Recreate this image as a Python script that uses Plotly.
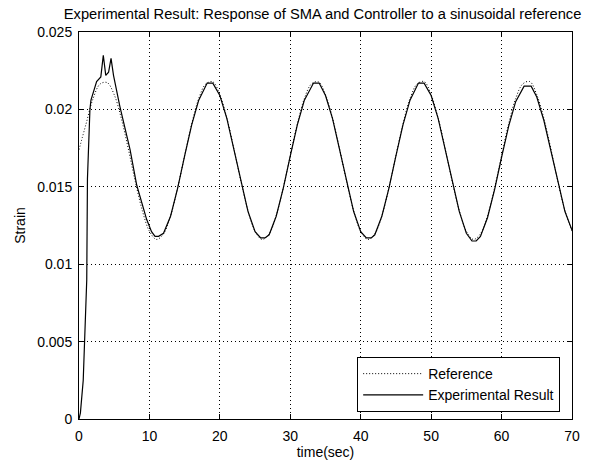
import plotly.graph_objects as go

# Reference signal (sampled every 1 s)
ref_t = list(range(0, 71))
ref_v = [0.01740, 0.01906, 0.02070, 0.02164, 0.02173, 0.02095, 0.01943, 0.01745,
         0.01533, 0.01345, 0.01213, 0.01160, 0.01196, 0.01313, 0.01492,
         0.01702, 0.01906, 0.02070, 0.02164, 0.02178, 0.02095, 0.01943, 0.01745,
         0.01533, 0.01345, 0.01213, 0.01160, 0.01196, 0.01313, 0.01492,
         0.01702, 0.01906, 0.02070, 0.02164, 0.02178, 0.02095, 0.01943, 0.01745,
         0.01533, 0.01345, 0.01213, 0.01160, 0.01196, 0.01313, 0.01492,
         0.01702, 0.01906, 0.02070, 0.02164, 0.02180, 0.02095, 0.01943, 0.01745,
         0.01533, 0.01345, 0.01213, 0.01160, 0.01196, 0.01313, 0.01492,
         0.01702, 0.01906, 0.02070, 0.02164, 0.02180, 0.02095, 0.01943, 0.01745,
         0.01533, 0.01345, 0.01213]

# Experimental result
exp_t = [0, 0.2, 0.6, 0.95, 1.1, 1.2, 1.4, 1.55, 1.7, 2.0, 2.5, 3.1, 3.45, 3.8, 4.2,
         4.55, 4.9, 5.8, 6.5, 7.25, 8.2, 9.0, 9.6, 10.3, 10.8, 11.3, 12, 13, 14, 15,
         16, 17, 18.2, 19.0, 20, 21, 22, 23, 24, 25, 25.8, 26.4, 27, 28, 29, 30, 31,
         32, 33.3, 34.1, 35, 36, 37, 38, 39, 40, 40.8, 41.5, 42, 43, 44, 45, 46, 47,
         48.2, 49.0, 50, 51, 52, 53, 54, 55, 55.8, 56.4, 57, 58, 59, 60, 61, 62,
         63.2, 64.2, 65, 66, 67, 68, 69, 70]
exp_v = [0, 0.0004, 0.0025, 0.0066, 0.0090, 0.0155, 0.0190, 0.0200, 0.0206, 0.0211,
         0.0218, 0.0221, 0.0235, 0.0222, 0.0224, 0.0233, 0.0222, 0.0202, 0.0188,
         0.0174, 0.0151, 0.0138, 0.0129, 0.0121, 0.0118, 0.0118, 0.0120, 0.0131,
         0.0149, 0.0170, 0.0190, 0.0206, 0.0217, 0.0217, 0.0209, 0.0194, 0.0174,
         0.0153, 0.0134, 0.0121, 0.0117, 0.0117, 0.0119, 0.0131, 0.0149, 0.0170,
         0.0190, 0.0206, 0.0217, 0.0217, 0.0209, 0.0194, 0.0174, 0.0153, 0.0134,
         0.0121, 0.0117, 0.0117, 0.0119, 0.0131, 0.0149, 0.0170, 0.0190, 0.0206,
         0.0217, 0.0217, 0.0209, 0.0194, 0.0174, 0.0153, 0.0134, 0.0120, 0.0115,
         0.0115, 0.0118, 0.0130, 0.0148, 0.0169, 0.0189, 0.0205, 0.0215, 0.0215,
         0.0208, 0.0193, 0.0173, 0.0152, 0.0134, 0.0122]

x_ticks = [0, 10, 20, 30, 40, 50, 60, 70]
x_labels = ["0", "10", "20", "30", "40", "50", "60", "70"]
y_ticks = [0, 0.005, 0.01, 0.015, 0.02, 0.025]
y_labels = ["0", "0.005", "0.01", "0.015", "0.02", "0.025"]

font = "Liberation Sans, Arial, sans-serif"
f14 = dict(family=font, size=14, color="black")

fig = go.Figure()
fig.add_trace(go.Scatter(x=ref_t, y=ref_v, mode="lines", name="Reference",
                         line=dict(color="black", width=1, dash="1px,2px", shape="spline")))
fig.add_trace(go.Scatter(x=exp_t, y=exp_v, mode="lines", name="Experimental Result",
                         line=dict(color="black", width=1.2)))

axis_common = dict(showline=True, linecolor="black", linewidth=1, mirror="ticks",
                   ticks="inside", ticklen=5, tickcolor="black", automargin=False,
                   showgrid=True, gridcolor="black", griddash="1px,3px", gridwidth=1,
                   zeroline=False, tickfont=f14)

fig.update_layout(
    width=589, height=461,
    margin=dict(l=79, r=17, t=32, b=42),
    paper_bgcolor="white", plot_bgcolor="white",
    title=dict(text="Experimental Result: Response of SMA and Controller to a sinusoidal reference",
               x=(79 + 493 / 2) / 589 - 0.005, xanchor="center", y=1 - 14 / 461, yanchor="middle",
               font=dict(family=font, size=14.7, color="black")),
    xaxis=dict(range=[0, 70], tickvals=x_ticks, ticktext=x_labels, ticklabelstandoff=4,
               title=dict(text="time(sec)", font=f14, standoff=2),
               **axis_common),
    yaxis=dict(range=[0, 0.025], tickvals=y_ticks, ticktext=y_labels, ticklabelstandoff=3,
               title=dict(text="Strain", font=f14, standoff=8),
               **axis_common),
    legend=dict(x=0.976, y=0.018, xanchor="right", yanchor="bottom",
                bgcolor="white", bordercolor="black", borderwidth=1,
                font=f14, tracegroupgap=0, itemwidth=60),
    showlegend=True,
)

fig.write_html("out.html")
